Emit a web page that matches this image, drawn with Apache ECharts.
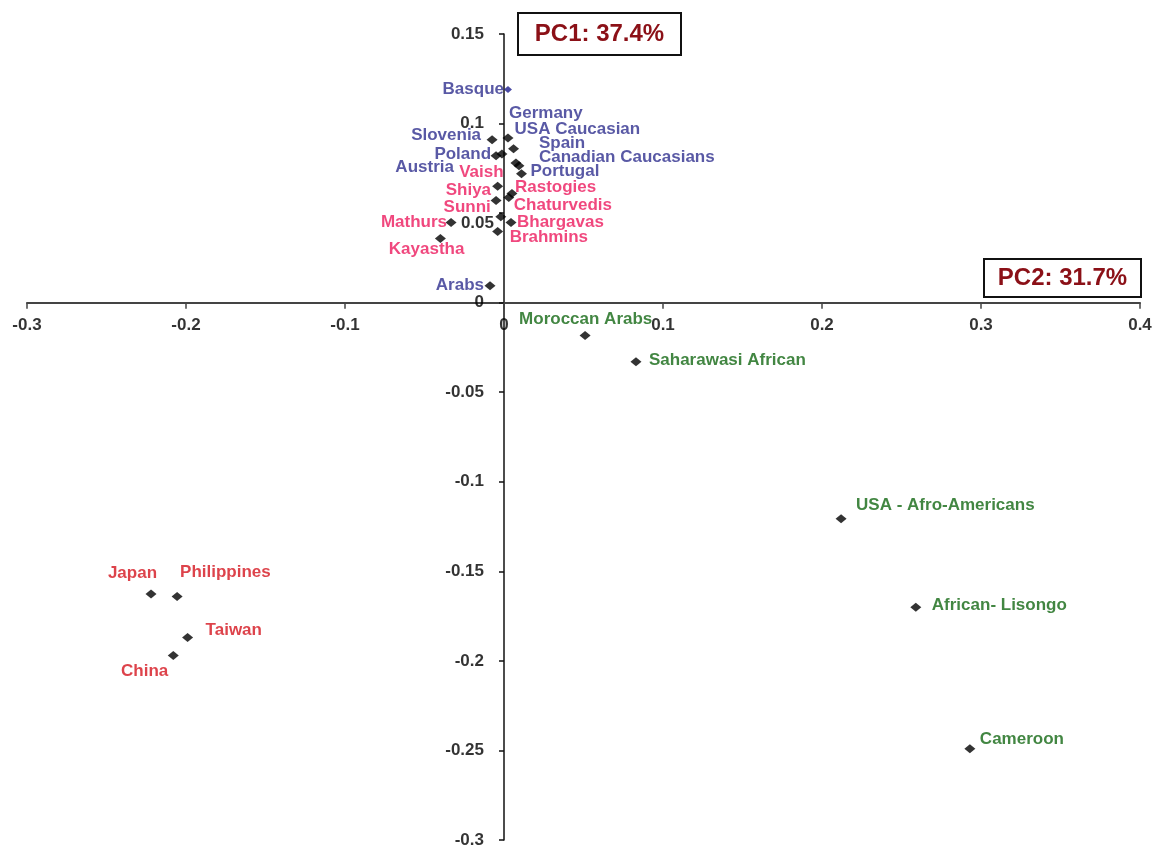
<!DOCTYPE html>
<html><head><meta charset="utf-8">
<script src="https://cdn.jsdelivr.net/npm/echarts@6/dist/echarts.min.js"></script>
<style>html,body{margin:0;padding:0;background:#fff}#c{width:1155px;height:850px}</style>
</head><body><div id="c"></div>
<script>
// ---- data ----
const names = ["Basque","Germany","USA Caucasian","Spain","Canadian Caucasians","Portugal","Slovenia","Poland","Austria","Arabs",
  "Vaish","Shiya","Sunni","Mathurs","Kayastha","Rastogies","Chaturvedis","Bhargavas","Brahmins",
  "Moroccan Arabs","Saharawasi African","USA - Afro-Americans","African- Lisongo","Cameroon",
  "Japan","Philippines","Taiwan","China"];
const pc1 = [0.0025,0.0025,0.006,0.0075,0.0094,0.011,-0.0075,-0.005,-0.0013,-0.0088,
  -0.004,-0.005,-0.002,-0.0333,-0.040,0.005,0.003,0.0044,-0.004,
  0.051,0.083,0.212,0.259,0.293,
  -0.222,-0.2056,-0.199,-0.208];
const pc2 = [0.119,0.092,0.086,0.078,0.0765,0.072,0.091,0.082,0.083,0.0095,
  0.065,0.057,0.048,0.0447,0.0358,0.061,0.0587,0.0447,0.0397,
  -0.0184,-0.033,-0.1207,-0.170,-0.249,
  -0.1626,-0.164,-0.187,-0.197];
const groups = ["eu","eu","eu","eu","eu","eu","eu","eu","eu","eu",
  "in","in","in","in","in","in","in","in","in",
  "af","af","af","af","af",
  "as","as","as","as"];
const xTicks = [-0.3,-0.2,-0.1,0,0.1,0.2,0.3,0.4];
const yTicks = [-0.3,-0.25,-0.2,-0.15,-0.1,-0.05,0,0.05,0.1,0.15];
const xTickLabels = ["-0.3","-0.2","-0.1","0","0.1","0.2","0.3","0.4"];
const yTickLabels = ["-0.3","-0.25","-0.2","-0.15","-0.1","-0.05","0","0.05","0.1","0.15"];
const pcLabels = ["PC1: 37.4%","PC2: 31.7%"];

// ---- styling / label placement (pixels) ----
const groupColor = {eu:"#2f2f8e", in:"#ec1a5e", af:"#136813", as:"#d4141e"};
const labelPlace = {
  "Basque":["left",-4,0],"Germany":["right",1,-25],"USA Caucasian":["right",1,-19],"Spain":["right",23,-20],
  "Canadian Caucasians":["right",20,-8],"Portugal":["right",9,-2],"Slovenia":["left",-11,-4],"Poland":["left",-5,-1],
  "Austria":["left",-48,13],"Arabs":["left",-6,0],"Vaish":["left",6,-14],"Shiya":["left",-5,-10],"Sunni":["left",-10,-9],
  "Mathurs":["left",-4,0],"Kayastha":["left",24,11],"Rastogies":["right",3,-6],"Chaturvedis":["right",5,8],
  "Bhargavas":["right",6,0],"Brahmins":["right",12,6],"Moroccan Arabs":["right",-66,-16],
  "Saharawasi African":["right",13,-1],"USA - Afro-Americans":["right",15,-14],"African- Lisongo":["right",16,-2],
  "Cameroon":["right",10,-9],"Japan":["left",6,-21],"Philippines":["right",3,-24],"Taiwan":["right",18,-7],"China":["left",-5,16]
};
const yTickLabelShift = {"0.05":[10,10]};
const FONT = "'Liberation Sans', Arial, sans-serif";
const LABEL_SIZE = 17;

const data = names.map((n,i)=>{
  const item = {
    name:n, value:[pc1[i],pc2[i]],
    label:{show:true, formatter:n, position:labelPlace[n][0], distance:0,
      color:groupColor[groups[i]], fontSize:LABEL_SIZE, fontWeight:"bold", fontFamily:FONT}
  };
  if(n==="Basque"){ item.itemStyle={color:"#1c1c8c"}; item.symbolSize=[8,7]; }
  return item;
});

function placeLabel(params){
  const p = labelPlace[names[params.dataIndex]];
  const r = params.rect;
  const cx = r.x + r.width/2, cy = r.y + r.height/2;
  const lw = params.labelRect.width;
  const left = p[0]==="right" ? cx + p[1] : cx + p[1] - lw;
  return {x:left, y:cy + p[2], align:"left", verticalAlign:"middle", hideOverlap:false};
}

const tickLabelStyle = {color:"#000",fontSize:17,fontWeight:"bold",fontFamily:FONT};

const chart = echarts.init(document.getElementById('c'));
chart.setOption({
  backgroundColor:"#fff",
  animation:false,
  grid:{left:27,right:15,top:34,bottom:10,containLabel:false,outerBoundsMode:"none"},
  xAxis:{type:"value",min:xTicks[0],max:xTicks[xTicks.length-1],interval:0.1,
    splitLine:{show:false},
    axisLine:{onZero:true,lineStyle:{color:"#444",width:2}},
    axisTick:{show:true,length:6,lineStyle:{color:"#444",width:1.5}},
    axisLabel:{show:false}},
  yAxis:{type:"value",min:yTicks[0],max:yTicks[yTicks.length-1],interval:0.05,
    splitLine:{show:false},
    axisLine:{onZero:true,lineStyle:{color:"#111",width:1.5}},
    axisTick:{show:true,length:5,lineStyle:{color:"#111",width:1.5}},
    axisLabel:{show:false}},
  series:[
    {type:"scatter",symbol:"diamond",symbolSize:[11,9],
      itemStyle:{color:"#000"},data:data,labelLayout:placeLabel,z:3},
    {type:"scatter",symbolSize:0,silent:true,z:2,
      data:xTicks.map((t,i)=>({value:[t,0],label:{show:true,formatter:xTickLabels[i],position:"bottom",distance:14,...tickLabelStyle}}))},
    {type:"scatter",symbolSize:0,silent:true,z:2,
      data:yTicks.map((t,i)=>({value:[0,t],label:{show:true,formatter:yTickLabels[i],position:"left",distance:20,
        offset:yTickLabelShift[yTickLabels[i]]||[0,0],...tickLabelStyle}}))}
  ],
  graphic:[
    {type:"group",left:517,top:12,children:[
      {type:"rect",shape:{x:0,y:0,width:163,height:42},style:{fill:"#fff",stroke:"#111",lineWidth:2}},
      {type:"text",x:81.5,y:21,style:{text:pcLabels[0],fill:"#8b1017",font:"bold 24px "+FONT,textAlign:"center",textVerticalAlign:"middle"}}
    ]},
    {type:"group",left:983,top:258,children:[
      {type:"rect",shape:{x:0,y:0,width:157,height:38},style:{fill:"#fff",stroke:"#111",lineWidth:2}},
      {type:"text",x:78.5,y:19,style:{text:pcLabels[1],fill:"#8b1017",font:"bold 24px "+FONT,textAlign:"center",textVerticalAlign:"middle"}}
    ]}
  ]
});
</script></body></html>
